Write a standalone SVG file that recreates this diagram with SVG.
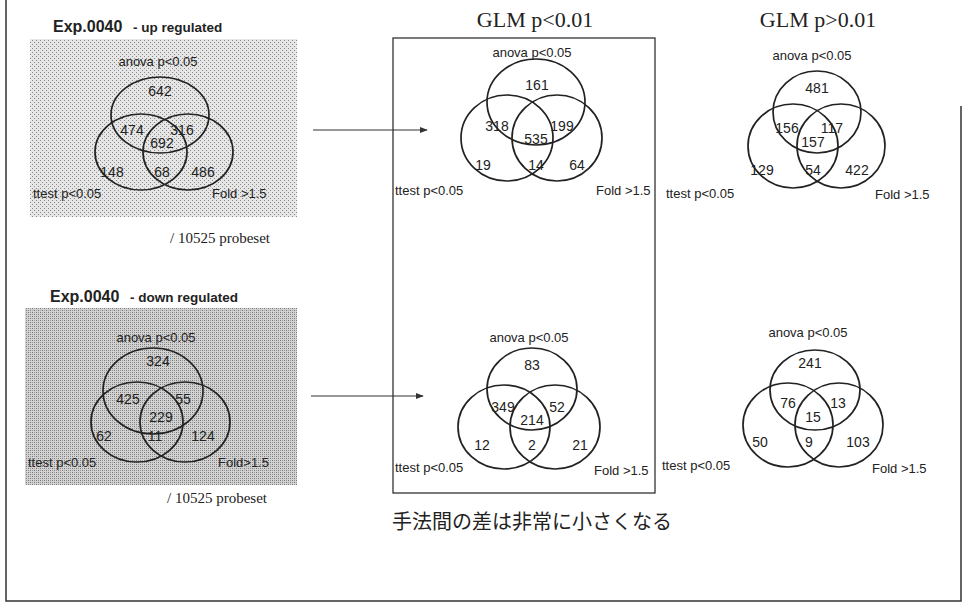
<svg xmlns="http://www.w3.org/2000/svg" width="963" height="603" viewBox="0 0 963 603">
<defs>
<pattern id="dotsLight" width="4" height="4" patternUnits="userSpaceOnUse">
<rect width="4" height="4" fill="#e6e6e6"/>
<rect x="0" y="0" width="1" height="1" fill="#8a8a8a"/>
<rect x="2" y="2" width="1" height="1" fill="#8a8a8a"/>
</pattern>
<pattern id="dotsDark" width="4" height="4" patternUnits="userSpaceOnUse">
<rect width="4" height="4" fill="#d2d2d2"/>
<rect x="0" y="0" width="1" height="1" fill="#777"/>
<rect x="2" y="2" width="1" height="1" fill="#777"/>
<rect x="2" y="0" width="1" height="1" fill="#999"/>
<rect x="0" y="2" width="1" height="1" fill="#999"/>
</pattern>
<marker id="arrow" viewBox="0 0 10 10" refX="9" refY="5" markerWidth="8" markerHeight="8" orient="auto" markerUnits="userSpaceOnUse">
<path d="M0,1 L10,5 L0,9 Z" fill="#333"/>
</marker>
</defs>
<style>
.c{fill:none;stroke:#222;stroke-width:1.7}
.l{font-family:"Liberation Sans",Arial,sans-serif;font-size:13px;fill:#222}
.n{font-family:"Liberation Sans",Arial,sans-serif;font-size:14px;fill:#222;text-anchor:middle}
.m{text-anchor:middle}
.t{font-family:"Liberation Sans",Arial,sans-serif;font-weight:bold;fill:#222}
.s{font-family:"Liberation Serif","Times New Roman",serif;fill:#222}
.j{font-family:"Noto Sans CJK JP",sans-serif;font-size:20px;fill:#222}
.frame{fill:none;stroke:#333;stroke-width:1.5}
.conn{stroke:#333;stroke-width:1.2;fill:none}
</style>
<rect width="963" height="603" fill="#fff"/>
<g id="frame">
<path class="frame" d="M6,0 L6,601 L961,601 L961,106"/>
</g>

<g id="up-regulated">
<rect x="30" y="39" width="267" height="178" fill="url(#dotsLight)"/>
<text class="t" x="53" y="32" font-size="16">Exp.0040</text>
<text class="t" x="133" y="32" font-size="13.5">- up regulated</text>
<ellipse class="c" cx="160" cy="115" rx="49" ry="38"/>
<ellipse class="c" cx="141" cy="152" rx="46" ry="38"/>
<ellipse class="c" cx="188" cy="152" rx="45" ry="38"/>
<text class="l m" x="158" y="66">anova p&lt;0.05</text>
<text class="n" x="160" y="96">642</text>
<text class="n" x="132" y="135">474</text>
<text class="n" x="182" y="135">316</text>
<text class="n" x="162" y="148">692</text>
<text class="n" x="112" y="177">148</text>
<text class="n" x="162" y="177">68</text>
<text class="n" x="203" y="177">486</text>
<text class="l" x="33" y="198">ttest p&lt;0.05</text>
<text class="l" x="212" y="198">Fold &gt;1.5</text>
<text class="s" x="170" y="243" font-size="15">/ 10525 probeset</text>
</g>

<g id="down-regulated">
<rect x="25" y="308" width="272" height="177" fill="url(#dotsDark)"/>
<text class="t" x="50" y="302" font-size="16">Exp.0040</text>
<text class="t" x="130" y="302" font-size="13.5">- down regulated</text>
<ellipse class="c" cx="153" cy="391" rx="50" ry="43"/>
<ellipse class="c" cx="137" cy="422" rx="46" ry="40"/>
<ellipse class="c" cx="185" cy="422" rx="45" ry="40"/>
<text class="l m" x="156" y="342">anova p&lt;0.05</text>
<text class="n" x="158" y="366">324</text>
<text class="n" x="128" y="404">425</text>
<text class="n" x="183" y="404">55</text>
<text class="n" x="161" y="422">229</text>
<text class="n" x="104" y="441">62</text>
<text class="n" x="155" y="441">11</text>
<text class="n" x="203" y="441">124</text>
<text class="l" x="28" y="467">ttest p&lt;0.05</text>
<text class="l" x="218" y="467">Fold&gt;1.5</text>
<text class="s" x="167" y="503" font-size="15">/ 10525 probeset</text>
</g>

<g id="glm-sig">
<text class="s m" x="535" y="27" font-size="22">GLM p&lt;0.01</text>
<rect x="393" y="38" width="262" height="455" fill="none" stroke="#333" stroke-width="1.3"/>
<text class="j" x="392" y="529">手法間の差は非常に小さくなる</text>
</g>

<g id="glm-sig-up">
<ellipse class="c" cx="536" cy="102" rx="49" ry="43"/>
<ellipse class="c" cx="507" cy="138" rx="46" ry="43"/>
<ellipse class="c" cx="557" cy="138" rx="45" ry="43"/>
<text class="l m" x="532" y="57">anova p&lt;0.05</text>
<text class="n" x="537" y="90">161</text>
<text class="n" x="497" y="131">318</text>
<text class="n" x="562" y="131">199</text>
<text class="n" x="536" y="144">535</text>
<text class="n" x="483" y="170">19</text>
<text class="n" x="536" y="170">14</text>
<text class="n" x="577" y="170">64</text>
<text class="l" x="395" y="195">ttest p&lt;0.05</text>
<text class="l" x="596" y="195">Fold &gt;1.5</text>
</g>

<g id="glm-sig-down">
<ellipse class="c" cx="532" cy="389" rx="45" ry="41"/>
<ellipse class="c" cx="504" cy="427" rx="46" ry="42"/>
<ellipse class="c" cx="555" cy="427" rx="45" ry="42"/>
<text class="l m" x="529" y="342">anova p&lt;0.05</text>
<text class="n" x="532" y="370">83</text>
<text class="n" x="503" y="412">349</text>
<text class="n" x="557" y="412">52</text>
<text class="n" x="532" y="425">214</text>
<text class="n" x="482" y="450">12</text>
<text class="n" x="532" y="450">2</text>
<text class="n" x="580" y="450">21</text>
<text class="l" x="395" y="472">ttest p&lt;0.05</text>
<text class="l" x="594" y="475">Fold &gt;1.5</text>
</g>

<g id="glm-nonsig-up">
<text class="s m" x="818" y="27" font-size="22">GLM p&gt;0.01</text>
<ellipse class="c" cx="817" cy="112" rx="44" ry="41"/>
<ellipse class="c" cx="793" cy="146" rx="45" ry="42"/>
<ellipse class="c" cx="841" cy="146" rx="44" ry="42"/>
<text class="l m" x="812" y="60">anova p&lt;0.05</text>
<text class="n" x="817" y="93">481</text>
<text class="n" x="787" y="133">156</text>
<text class="n" x="832" y="133">117</text>
<text class="n" x="813" y="147">157</text>
<text class="n" x="762" y="175">129</text>
<text class="n" x="813" y="175">54</text>
<text class="n" x="857" y="175">422</text>
<text class="l" x="666" y="198">ttest p&lt;0.05</text>
<text class="l" x="875" y="199">Fold &gt;1.5</text>
</g>

<g id="glm-nonsig-down">
<ellipse class="c" cx="815" cy="390" rx="45" ry="40"/>
<ellipse class="c" cx="788" cy="425" rx="45" ry="42"/>
<ellipse class="c" cx="839" cy="425" rx="44" ry="42"/>
<text class="l m" x="808" y="337">anova p&lt;0.05</text>
<text class="n" x="810" y="368">241</text>
<text class="n" x="788" y="408">76</text>
<text class="n" x="838" y="408">13</text>
<text class="n" x="813" y="422">15</text>
<text class="n" x="760" y="447">50</text>
<text class="n" x="809" y="447">9</text>
<text class="n" x="858" y="447">103</text>
<text class="l" x="662" y="470">ttest p&lt;0.05</text>
<text class="l" x="872" y="473">Fold &gt;1.5</text>
</g>

<g id="connectors">
<line class="conn" x1="313" y1="130" x2="427" y2="130" marker-end="url(#arrow)"/>
<line class="conn" x1="311" y1="396" x2="423" y2="396" marker-end="url(#arrow)"/>
</g>
</svg>
